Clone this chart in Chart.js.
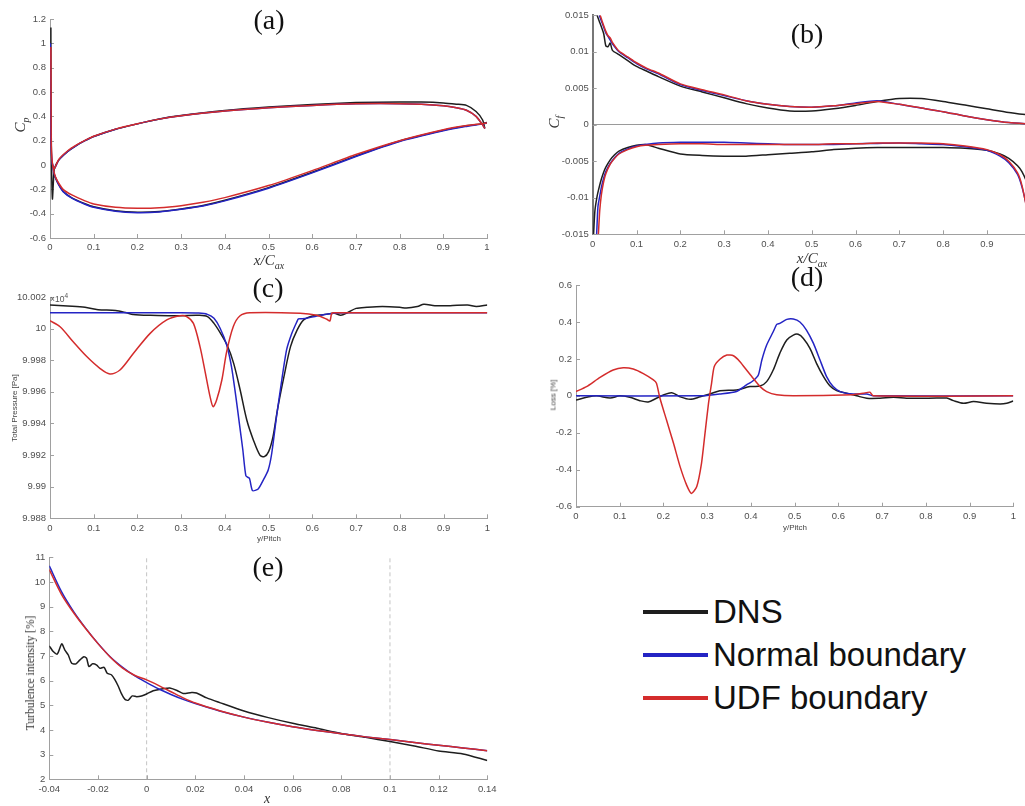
<!DOCTYPE html>
<html>
<head>
<meta charset="utf-8">
<title>Boundary condition comparison</title>
<script src="https://cdn.jsdelivr.net/npm/chart.js@4.4.1/dist/chart.umd.min.js"></script>
<style>
  html, body { margin: 0; padding: 0; background: #fff; overflow: hidden; }
  body { position: relative; width: 1025px; height: 806px; }
  canvas { position: absolute; }
  .txt { position: absolute; transform: translate(-50%, -50%); white-space: nowrap; color: #333; }
  .rot { transform: translate(-50%, -50%) rotate(-90deg); }
  .tag { font: 28px 'Liberation Serif', 'Times New Roman', serif; color: #111; }
  .sym { font: italic 15px 'Liberation Serif', 'Times New Roman', serif; }
  .sym sub { font-size: 10px; }
  .lab { font: 8px 'Liberation Sans', Arial, sans-serif; color: #444; }
  .serif { font: 11.5px 'Liberation Serif', 'Times New Roman', serif; color: #333; }
  #expo { position: absolute; left: 50px; top: 292px; font: 8.5px 'Liberation Sans', Arial, sans-serif; color: #555; }
  #expo sup { font-size: 6.5px; }
  #legend { position: absolute; left: 643px; top: 591px; font: 33px 'Liberation Sans', Arial, sans-serif; color: #111; }
  #legend .row { display: flex; align-items: center; height: 42.7px; }
  #legend .sw { width: 65px; height: 4px; margin-right: 5px; }
</style>
</head>
<body>
<canvas id="cpChart" width="520" height="270" style="left:0;top:0"></canvas>
<canvas id="cfChart" width="520" height="270" style="left:520px;top:0"></canvas>
<canvas id="ptChart" width="520" height="270" style="left:0;top:270px"></canvas>
<canvas id="lossChart" width="505" height="270" style="left:520px;top:270px"></canvas>
<canvas id="tiChart" width="520" height="266" style="left:0;top:540px"></canvas>

<div class="txt tag" style="left:269px;top:20px">(a)</div>
<div class="txt tag" style="left:807px;top:34px">(b)</div>
<div class="txt tag" style="left:268px;top:288px">(c)</div>
<div class="txt tag" style="left:807px;top:277px">(d)</div>
<div class="txt tag" style="left:268px;top:567px">(e)</div>

<div class="txt sym rot" style="left:21px;top:125px">C<sub>p</sub></div>
<div class="txt sym" style="left:269px;top:261px">x/C<sub>ax</sub></div>
<div class="txt sym rot" style="left:555px;top:122px">C<sub>f</sub></div>
<div class="txt sym" style="left:812px;top:259px">x/C<sub>ax</sub></div>
<div class="txt lab rot" style="left:14px;top:408px">Total Pressure [Pa]</div>
<div id="expo">×10<sup>4</sup></div>
<div class="txt lab" style="left:269px;top:538px">y/Pitch</div>
<div class="txt lab rot" style="left:553px;top:395px">Loss [%]</div>
<div class="txt lab" style="left:795px;top:527px">y/Pitch</div>
<div class="txt serif rot" style="left:30px;top:673px">Turbulence intensity [%]</div>
<div class="txt sym" style="left:267px;top:799px;font-size:14px">x</div>

<div id="legend"></div>

<script>
// series shared by every panel
const seriesNames = ['DNS', 'Normal boundary', 'UDF boundary'];
const seriesColors = ['#1e1e1e', '#2424c4', '#d42c2c'];

// (a) pressure coefficient: pressure side (with leading-edge spike) and suction side
const cpPsX = [0.02, 0.04, 0.06, 0.08, 0.1, 0.15, 0.2, 0.25, 0.3, 0.4, 0.5, 0.6, 0.7, 0.8, 0.85, 0.9, 0.93, 0.953, 0.975, 0.99, 0.995];
const cpDnsPsX = [0.002, 0.0022, 0.003, 0.004, 0.0055, 0.008, 0.01, ...cpPsX];
const cpDnsPsY = [1.13, 0.7, 0.2, -0.1, -0.28, -0.12, -0.03, 0.04, 0.11, 0.16, 0.2, 0.234, 0.294, 0.338, 0.378, 0.406, 0.447, 0.476, 0.498, 0.513, 0.518, 0.517, 0.51, 0.5, 0.49, 0.44, 0.37, 0.3];
const cpNbPsX = [0.0008, 0.001, 0.002, 0.005, 0.01, ...cpPsX];
const cpNbPsY = [1.0, 0.6, 0.2, 0.02, -0.03, 0.04, 0.11, 0.16, 0.2, 0.234, 0.294, 0.338, 0.377, 0.404, 0.443, 0.47, 0.49, 0.503, 0.504, 0.5, 0.487, 0.47, 0.45, 0.4, 0.33, 0.3];
const cpUdfPsX = [0.002, 0.0025, 0.003, 0.006, 0.01, ...cpPsX];
const cpUdfPsY = [0.97, 0.5, 0.15, 0.0, -0.03, 0.045, 0.115, 0.163, 0.202, 0.236, 0.295, 0.339, 0.377, 0.404, 0.443, 0.47, 0.49, 0.503, 0.504, 0.5, 0.487, 0.47, 0.45, 0.4, 0.33, 0.3];

const cpSsX = [0.02, 0.03, 0.05, 0.08, 0.1, 0.15, 0.2, 0.25, 0.3, 0.35, 0.4, 0.5, 0.6, 0.7, 0.8, 0.9, 0.95, 0.99, 1.0];
const cpDnsSsX = [0.008, 0.012, ...cpSsX];
const cpDnsSsY = [-0.06, -0.1, -0.16, -0.215, -0.27, -0.318, -0.343, -0.376, -0.388, -0.383, -0.361, -0.333, -0.29, -0.186, -0.06, 0.074, 0.197, 0.285, 0.32, 0.34, 0.35];
const cpNbSsX = [0.005, 0.008, 0.012, ...cpSsX];
const cpNbSsY = [0.02, -0.05, -0.1, -0.164, -0.219, -0.273, -0.323, -0.348, -0.381, -0.392, -0.386, -0.364, -0.337, -0.295, -0.191, -0.065, 0.07, 0.193, 0.281, 0.316, 0.338, 0.345];
const cpUdfSsX = [0.006, 0.01, 0.014, ...cpSsX];
const cpUdfSsY = [0.0, -0.07, -0.11, -0.15, -0.2, -0.246, -0.295, -0.32, -0.348, -0.356, -0.352, -0.334, -0.306, -0.268, -0.169, -0.046, 0.086, 0.2, 0.29, 0.322, 0.34, 0.345];

// (b) skin friction, positive branch and negative branch
const cfTopX = [0.025, 0.03, 0.035, 0.04, 0.045, 0.06, 0.08, 0.1, 0.125, 0.15, 0.2, 0.25, 0.3, 0.35, 0.4, 0.45, 0.5, 0.55, 0.6, 0.65, 0.7, 0.75, 0.8, 0.85, 0.9, 0.95, 1.0];
const cfDnsTopX = [0.01, 0.015, ...cfTopX];
const cfDnsTopY = [0.015, 0.0142, 0.0125, 0.0108, 0.0107, 0.0112, 0.0102, 0.0096, 0.0088, 0.008, 0.0073, 0.0066, 0.0053, 0.0045, 0.0037, 0.0029, 0.0023, 0.0019, 0.0019, 0.0022, 0.00265, 0.0032, 0.0036, 0.0036, 0.0032, 0.0027, 0.0022, 0.0017, 0.0013];
const cfNbTopX = [0.015, 0.02, ...cfTopX];
const cfNbTopY = [0.015, 0.0142, 0.0134, 0.0126, 0.0121, 0.0116, 0.0111, 0.01, 0.0092, 0.0084, 0.0076, 0.007, 0.0055, 0.0047, 0.004, 0.0033, 0.0028, 0.0025, 0.0024, 0.0026, 0.003, 0.0033, 0.0028, 0.0023, 0.0018, 0.0012, 0.0007, 0.0003, 0.0001];
const cfUdfTopX = [0.017, 0.021, ...cfTopX];
const cfUdfTopY = [0.015, 0.0143, 0.0136, 0.0128, 0.0122, 0.0119, 0.0113, 0.0101, 0.0093, 0.0085, 0.0077, 0.0071, 0.0056, 0.0048, 0.0041, 0.0033, 0.0028, 0.0025, 0.0024, 0.0026, 0.0029, 0.0032, 0.0028, 0.0023, 0.0018, 0.0012, 0.0007, 0.0003, 0.0001];

const cfBotX = [0.025, 0.03, 0.04, 0.05, 0.06, 0.08, 0.1, 0.12, 0.15, 0.2, 0.25, 0.3, 0.35, 0.4, 0.45, 0.5, 0.55, 0.6, 0.65, 0.7, 0.75, 0.8, 0.85, 0.9, 0.93, 0.95, 0.97, 0.98, 0.99, 1.0];
const cfDnsBotX = [0.002, 0.005, 0.01, 0.015, 0.02, ...cfBotX];
const cfDnsBotY = [-0.015, -0.0118, -0.0098, -0.0085, -0.0074, -0.0065, -0.0058, -0.0048, -0.0041, -0.0036, -0.0031, -0.0028, -0.0027, -0.0032, -0.004, -0.0042, -0.0043, -0.0043, -0.0041, -0.0039, -0.0037, -0.0034, -0.0032, -0.0031, -0.0031, -0.0031, -0.0031, -0.0032, -0.0035, -0.004, -0.0046, -0.0056, -0.0064, -0.0077, -0.0095];
const cfNbBotX = [0.009, 0.012, 0.016, 0.02, ...cfBotX];
const cfNbBotY = [-0.015, -0.0112, -0.0098, -0.0085, -0.0073, -0.0064, -0.0053, -0.0045, -0.0039, -0.0033, -0.0029, -0.0027, -0.0025, -0.0024, -0.0024, -0.0024, -0.0025, -0.0026, -0.0027, -0.0027, -0.0027, -0.0026, -0.00255, -0.0025, -0.0026, -0.0027, -0.003, -0.0035, -0.0043, -0.0052, -0.0068, -0.0085, -0.011, -0.014];
const cfUdfBotX = [0.013, 0.016, 0.02, ...cfBotX];
const cfUdfBotY = [-0.015, -0.0118, -0.0095, -0.0078, -0.0067, -0.0054, -0.0046, -0.004, -0.0034, -0.003, -0.0028, -0.0027, -0.0026, -0.0026, -0.0027, -0.0027, -0.0027, -0.0027, -0.0027, -0.0026, -0.0026, -0.0025, -0.0025, -0.0025, -0.0026, -0.0029, -0.0034, -0.0041, -0.005, -0.0066, -0.0083, -0.0112, -0.0145];

// (c) total pressure across the pitch, in units of 1e4 Pa
const ptDnsX = [0, 0.04, 0.08, 0.11, 0.15, 0.175, 0.19, 0.23, 0.27, 0.3, 0.34, 0.36, 0.375, 0.39, 0.405, 0.42, 0.435, 0.45, 0.465, 0.48, 0.49, 0.5, 0.51, 0.52, 0.535, 0.55, 0.565, 0.58, 0.6, 0.625, 0.65, 0.665, 0.68, 0.7, 0.725, 0.76, 0.8, 0.815, 0.84, 0.855, 0.88, 0.915, 0.955, 0.975, 1.0];
const ptDnsY = [10.0015, 10.00143, 10.00135, 10.0012, 10.00114, 10.001, 10.0009, 10.00084, 10.00082, 10.00082, 10.00084, 10.00076, 10.00033, 9.9997, 9.99896, 9.9978, 9.9961, 9.99422, 9.99296, 9.992, 9.9919, 9.99222, 9.99317, 9.99485, 9.99696, 9.99886, 9.9999, 10.00055, 10.0008, 10.00088, 10.00097, 10.00085, 10.001, 10.00128, 10.00135, 10.0014, 10.00135, 10.0013, 10.0014, 10.00154, 10.00145, 10.00145, 10.0015, 10.0014, 10.0015];
const ptNbX = [0, 0.3, 0.34, 0.36, 0.375, 0.389, 0.404, 0.415, 0.425, 0.433, 0.441, 0.448, 0.456, 0.463, 0.476, 0.488, 0.499, 0.507, 0.518, 0.53, 0.541, 0.553, 0.564, 0.568, 0.575, 0.587, 0.61, 0.648, 0.678, 1.0];
const ptNbY = [10.001, 10.001, 10.00098, 10.0009, 10.00065, 10.00002, 9.99896, 9.99759, 9.9957, 9.99401, 9.99232, 9.99068, 9.99053, 9.98975, 9.98985, 9.99043, 9.99106, 9.9921, 9.99443, 9.99675, 9.99865, 9.9997, 10.0004, 10.00061, 10.00062, 10.00065, 10.0008, 10.00097, 10.001, 10.001];
const ptUdfX = [0, 0.023, 0.053, 0.084, 0.114, 0.137, 0.16, 0.191, 0.229, 0.267, 0.297, 0.3125, 0.328, 0.343, 0.354, 0.366, 0.373, 0.381, 0.393, 0.404, 0.419, 0.434, 0.457, 0.572, 0.61, 0.633, 0.64, 0.644, 0.648, 1.0];
const ptUdfY = [10.0005, 10.00012, 9.99917, 9.99823, 9.99749, 9.99713, 9.99738, 9.99844, 9.9997, 10.00055, 10.00082, 10.00076, 10.00033, 9.99886, 9.99738, 9.9957, 9.99506, 9.99549, 9.99675, 9.99854, 10.00012, 10.0008, 10.001, 10.00097, 10.00084, 10.00059, 10.00048, 10.00095, 10.001, 10.001];

// (d) loss across the pitch
const lossDnsX = [0, 0.024, 0.047, 0.078, 0.1, 0.123, 0.146, 0.165, 0.184, 0.2, 0.219, 0.238, 0.261, 0.284, 0.306, 0.329, 0.367, 0.398, 0.421, 0.436, 0.451, 0.466, 0.482, 0.497, 0.508, 0.52, 0.535, 0.55, 0.566, 0.581, 0.596, 0.619, 0.642, 0.665, 0.695, 0.726, 0.756, 0.787, 0.825, 0.848, 0.863, 0.886, 0.909, 0.939, 0.97, 0.985, 1.0];
const lossDnsY = [-0.023, -0.008, 0.0, -0.012, 0.0, -0.008, -0.026, -0.033, -0.013, 0.005, 0.017, -0.005, -0.019, -0.005, 0.01, 0.028, 0.032, 0.05, 0.053, 0.077, 0.14, 0.23, 0.302, 0.329, 0.333, 0.311, 0.257, 0.176, 0.104, 0.053, 0.028, 0.014, 0.0, -0.013, -0.013, -0.008, -0.013, -0.013, -0.012, -0.012, -0.026, -0.04, -0.031, -0.04, -0.044, -0.04, -0.028];
const lossNbX = [0, 0.29, 0.329, 0.367, 0.39, 0.405, 0.417, 0.425, 0.436, 0.451, 0.459, 0.466, 0.482, 0.497, 0.512, 0.527, 0.543, 0.558, 0.573, 0.588, 0.604, 0.634, 0.665, 0.68, 1.0];
const lossNbY = [0, 0, 0.01, 0.024, 0.059, 0.082, 0.113, 0.194, 0.275, 0.347, 0.387, 0.392, 0.414, 0.416, 0.4, 0.356, 0.284, 0.194, 0.104, 0.05, 0.023, 0.01, 0.01, 0.0, 0.0];
const lossUdfX = [0, 0.024, 0.055, 0.085, 0.108, 0.131, 0.154, 0.177, 0.184, 0.192, 0.207, 0.223, 0.238, 0.253, 0.264, 0.276, 0.287, 0.295, 0.303, 0.31, 0.316, 0.329, 0.345, 0.36, 0.375, 0.39, 0.405, 0.421, 0.436, 0.459, 0.497, 0.634, 0.657, 0.672, 0.68, 1.0];
const lossUdfY = [0.023, 0.05, 0.1, 0.14, 0.152, 0.145, 0.12, 0.086, 0.068, -0.013, -0.131, -0.257, -0.383, -0.483, -0.528, -0.492, -0.365, -0.203, -0.041, 0.068, 0.158, 0.198, 0.221, 0.217, 0.185, 0.14, 0.095, 0.05, 0.023, 0.006, 0.0, 0.006, 0.014, 0.02, 0.0, 0.0];

// (e) turbulence intensity decay upstream of the blade
const tiX = [-0.04, -0.035, -0.03, -0.025, -0.02, -0.015, -0.01, -0.005, 0, 0.005, 0.01, 0.015, 0.02, 0.03, 0.04, 0.05, 0.06, 0.07, 0.08, 0.09, 0.1, 0.11, 0.12, 0.13, 0.14];
const tiNb = [10.65, 9.61, 8.8, 8.12, 7.51, 6.97, 6.55, 6.2, 5.92, 5.66, 5.44, 5.24, 5.07, 4.77, 4.52, 4.31, 4.13, 3.98, 3.85, 3.72, 3.61, 3.49, 3.38, 3.27, 3.16];
const tiUdf = [10.5, 9.5, 8.75, 8.1, 7.5, 6.96, 6.52, 6.22, 6.03, 5.8, 5.55, 5.3, 5.09, 4.78, 4.52, 4.31, 4.13, 3.98, 3.85, 3.72, 3.61, 3.49, 3.38, 3.27, 3.16];
const tiDnsX = [-0.04, -0.0384, -0.0367, -0.0349, -0.0336, -0.0322, -0.0308, -0.029, -0.0274, -0.0258, -0.0247, -0.0237, -0.0222, -0.0205, -0.0192, -0.0175, -0.0162, -0.0144, -0.013, -0.0116, -0.0103, -0.0089, -0.0075, -0.0059, -0.0041, -0.0021, 0, 0.0027, 0.0055, 0.0082, 0.0095, 0.0125, 0.015, 0.0185, 0.0205, 0.0247, 0.03, 0.04, 0.05, 0.06, 0.07, 0.08, 0.09, 0.1, 0.11, 0.12, 0.13, 0.14];
const tiDns = [7.41, 7.18, 7.08, 7.49, 7.24, 7.04, 6.7, 6.68, 6.84, 6.97, 6.91, 6.57, 6.68, 6.63, 6.5, 6.54, 6.3, 6.23, 6.03, 5.76, 5.46, 5.24, 5.21, 5.38, 5.35, 5.38, 5.46, 5.59, 5.65, 5.69, 5.7, 5.6, 5.48, 5.52, 5.5, 5.3, 5.11, 4.77, 4.5, 4.27, 4.07, 3.86, 3.7, 3.53, 3.35, 3.15, 3.03, 2.76];
const tiMarks = [0, 0.1];

const axisGrey = '#a0a0a0';
const tickGrey = '#4f4f4f';

// short tick marks drawn inside the plot box, like the usual engineering plots
const innerTicks = {
    id: 'innerTicks',
    beforeDatasetsDraw(chart) {
        const { ctx, chartArea: a, scales } = chart;
        ctx.save();
        ctx.strokeStyle = axisGrey;
        ctx.lineWidth = 1;
        ctx.beginPath();
        scales.x.ticks.forEach(t => {
            const px = Math.round(scales.x.getPixelForValue(t.value)) + 0.5;
            ctx.moveTo(px, a.bottom);
            ctx.lineTo(px, a.bottom - 4);
        });
        scales.y.ticks.forEach(t => {
            const py = Math.round(scales.y.getPixelForValue(t.value)) + 0.5;
            ctx.moveTo(a.left, py);
            ctx.lineTo(a.left + 4, py);
        });
        ctx.stroke();
        ctx.restore();
    }
};
Chart.register(innerTicks);

function pts(xs, ys) {
    return xs.map((x, i) => ({ x: x, y: ys[i] }));
}

function curve(xs, ys, s, tension) {
    return {
        label: seriesNames[s],
        data: pts(xs, ys),
        borderColor: seriesColors[s],
        borderWidth: 1.5,
        pointRadius: 0,
        tension: tension === undefined ? 0.3 : tension,
        order: 3 - s   // UDF drawn on top, DNS underneath
    };
}

function axis(min, max, step, digits, size, extra) {
    return Object.assign({
        type: 'linear',
        min: min,
        max: max,
        border: { display: true, color: axisGrey, width: 1 },
        grid: { display: false, drawTicks: false },
        ticks: {
            stepSize: step,
            autoSkip: false,
            maxRotation: 0,
            padding: 4,
            color: tickGrey,
            font: { family: "'Liberation Sans', Arial, sans-serif", size: 9.5 },
            callback: v => String(+v.toFixed(digits))
        },
        afterFit: scale => {
            if (scale.isHorizontal()) scale.height = size;
            else scale.width = size;
        }
    }, extra || {});
}

function makeChart(id, datasets, xAxis, yAxis, padding) {
    return new Chart(document.getElementById(id), {
        type: 'line',
        data: { datasets: datasets },
        options: {
            responsive: false,
            animation: false,
            devicePixelRatio: 1,
            layout: { padding: padding },
            plugins: { legend: { display: false }, tooltip: { enabled: false } },
            scales: { x: xAxis, y: yAxis }
        }
    });
}

// (a)
makeChart('cpChart', [
    curve(cpDnsPsX, cpDnsPsY, 0, 0.2), curve(cpDnsSsX, cpDnsSsY, 0, 0.2),
    curve(cpNbPsX, cpNbPsY, 1, 0.2), curve(cpNbSsX, cpNbSsY, 1, 0.2),
    curve(cpUdfPsX, cpUdfPsY, 2, 0.2), curve(cpUdfSsX, cpUdfSsY, 2, 0.2)
], axis(0, 1, 0.1, 1, 20), axis(-0.6, 1.2, 0.2, 1, 50),
   { left: 0, top: 19, right: 33, bottom: 12 });

// (b)
makeChart('cfChart', [
    curve(cfDnsTopX, cfDnsTopY, 0, 0.2), curve(cfDnsBotX, cfDnsBotY, 0, 0.2),
    curve(cfNbTopX, cfNbTopY, 1, 0.2), curve(cfNbBotX, cfNbBotY, 1, 0.2),
    curve(cfUdfTopX, cfUdfTopY, 2, 0.2), curve(cfUdfBotX, cfUdfBotY, 2, 0.2)
], axis(0, 1, 0.1, 1, 20),
   axis(-0.015, 0.015, 0.005, 3, 72.7, {
       border: { display: true, color: '#777', width: 2 },
       grid: {
           display: true,
           drawTicks: false,
           lineWidth: 1,
           color: c => (c.tick && c.tick.value === 0 ? '#9a9a9a' : 'rgba(0,0,0,0)')
       }
   }),
   { left: 0, top: 15.3, right: 9.3, bottom: 15.7 });

// (c)
makeChart('ptChart', [
    curve(ptDnsX, ptDnsY, 0), curve(ptNbX, ptNbY, 1, 0.2), curve(ptUdfX, ptUdfY, 2)
], axis(0, 1, 0.1, 1, 20), axis(9.988, 10.002, 0.002, 3, 50),
   { left: 0, top: 27, right: 32.7, bottom: 1.7 });

// (d)
makeChart('lossChart', [
    curve(lossDnsX, lossDnsY, 0), curve(lossNbX, lossNbY, 1, 0.2), curve(lossUdfX, lossUdfY, 2, 0.2)
], axis(0, 1, 0.1, 1, 20), axis(-0.6, 0.6, 0.2, 1, 56),
   { left: 0, top: 15, right: 11.7, bottom: 13.3 });

// (e) with the two dashed reference stations
const markerSets = tiMarks.map(x => ({
    data: [{ x: x, y: 2 }, { x: x, y: 11 }],
    borderColor: '#c4c4c4',
    borderWidth: 1,
    borderDash: [4, 3],
    pointRadius: 0,
    order: 10
}));
makeChart('tiChart', [
    ...markerSets,
    curve(tiDnsX, tiDns, 0, 0.25), curve(tiX, tiNb, 1), curve(tiX, tiUdf, 2)
], axis(-0.04, 0.14, 0.02, 2, 20), axis(2, 11, 1, 0, 49.3),
   { left: 0, top: 17.3, right: 32.7, bottom: 6.7 });

// legend shared by all panels
const legend = document.getElementById('legend');
seriesNames.forEach((name, i) => {
    const row = document.createElement('div');
    row.className = 'row';
    const sw = document.createElement('span');
    sw.className = 'sw';
    sw.style.background = seriesColors[i];
    const label = document.createElement('span');
    label.textContent = name;
    row.appendChild(sw);
    row.appendChild(label);
    legend.appendChild(row);
});
</script>
</body>
</html>
